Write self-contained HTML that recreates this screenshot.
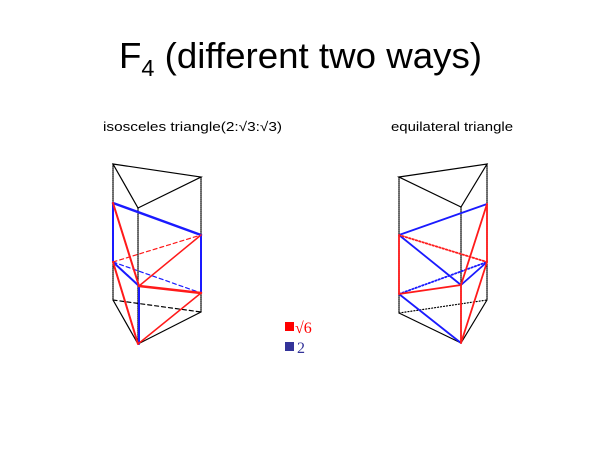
<!DOCTYPE html>
<html><head><meta charset="utf-8"><style>
html,body{margin:0;padding:0;background:#fff;}
svg{display:block;}
</style></head><body>
<svg width="600" height="450" viewBox="0 0 600 450" xmlns="http://www.w3.org/2000/svg" font-family="Liberation Sans, sans-serif">
<text x="119" y="68" font-size="36" fill="#000" textLength="363" lengthAdjust="spacingAndGlyphs">F<tspan font-size="23" dy="8">4</tspan><tspan dy="-8"> (different two ways)</tspan></text>
<text x="103" y="131" font-size="13" fill="#000" textLength="179" lengthAdjust="spacingAndGlyphs">isosceles triangle(2:√3:√3)</text>
<text x="391" y="131" font-size="13" fill="#000" textLength="122" lengthAdjust="spacingAndGlyphs">equilateral triangle</text>

<g fill="none" stroke-linecap="round">
<!-- left prism -->
<g stroke="#000" stroke-width="1.2">
<polygon points="113,164 201,177 138,208"/>
<line x1="113" y1="164" x2="113" y2="300" stroke-dasharray="1,1"/>
<line x1="201" y1="177" x2="201" y2="312" stroke-dasharray="1,1"/>
<line x1="138" y1="208" x2="138" y2="344" stroke-dasharray="1,1"/>
<line x1="113" y1="300" x2="201" y2="312" stroke-dasharray="4,3"/>
<polyline points="113,300 138,344 201,312"/>
</g>
<g stroke="#1a1aff" stroke-width="2">
<line x1="113" y1="203" x2="201" y2="235" stroke-width="2.5"/>
<line x1="113" y1="203" x2="113" y2="262"/>
<line x1="201" y1="235" x2="201" y2="293"/>
<line x1="113" y1="262" x2="139" y2="286"/>
<line x1="113" y1="262" x2="201" y2="293" stroke-width="1.2" stroke-dasharray="4,3"/>
<line x1="139" y1="286" x2="139" y2="344"/>
</g>
<g stroke="#ff1a1a" stroke-width="2">
<line x1="113" y1="203" x2="139" y2="286"/>
<line x1="139" y1="286" x2="201" y2="293" stroke-width="2.5"/>
<line x1="201" y1="235" x2="139" y2="286" stroke-width="1.5"/>
<line x1="113" y1="262" x2="201" y2="235" stroke-width="1.2" stroke-dasharray="4,3"/>
<line x1="113" y1="262" x2="138" y2="344"/>
<line x1="138" y1="344" x2="201" y2="293" stroke-width="1.5"/>
</g>

<!-- right prism -->
<g stroke="#000" stroke-width="1.2">
<polygon points="399,177 487,164 461,207"/>
<line x1="399" y1="177" x2="399" y2="313" stroke-dasharray="1,1"/>
<line x1="487" y1="164" x2="487" y2="300" stroke-dasharray="1,1"/>
<line x1="461" y1="207" x2="461" y2="343" stroke-dasharray="1,1"/>
<line x1="399" y1="313" x2="487" y2="300" stroke-dasharray="1,2"/>
<polyline points="399,313 461,343 487,300"/>
</g>
<g stroke="#1a1aff" stroke-width="1.8">
<line x1="399" y1="235" x2="487" y2="204"/>
<line x1="399" y1="235" x2="461" y2="285"/>
<line x1="461" y1="285" x2="487" y2="262"/>
<line x1="399" y1="294" x2="487" y2="262" stroke-dasharray="1.5,2"/>
<line x1="399" y1="294" x2="461" y2="343"/>
</g>
<g stroke="#ff1a1a" stroke-width="1.8">
<line x1="399" y1="235" x2="399" y2="294"/>
<line x1="399" y1="235" x2="487" y2="262" stroke-dasharray="1.5,2"/>
<line x1="399" y1="294" x2="461" y2="285"/>
<line x1="461" y1="285" x2="487" y2="204"/>
<line x1="487" y1="204" x2="487" y2="262"/>
<line x1="461" y1="285" x2="461" y2="343"/>
<line x1="461" y1="343" x2="487" y2="262"/>
</g>
</g>

<!-- legend -->
<rect x="285" y="322" width="9" height="9" fill="#ff0000"/>
<text x="295" y="333" font-size="16" fill="#ff0000" font-family="Liberation Serif, serif">√6</text>
<rect x="285" y="342" width="9" height="9" fill="#333399"/>
<text x="297" y="353" font-size="16" fill="#333399" font-family="Liberation Serif, serif">2</text>
</svg>
</body></html>
